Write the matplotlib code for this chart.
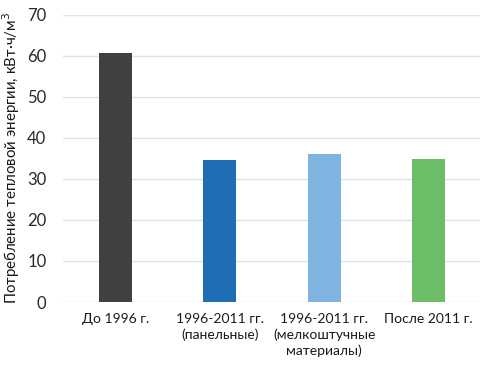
import matplotlib.pyplot as plt

categories = ["До 1996 г.", "1996-2011 гг.\n(панельные)",
              "1996-2011 гг.\n(мелкоштучные\nматериалы)", "После 2011 г."]
values = [60.6, 34.7, 36.1, 34.8]
colors = ["#404040", "#1f6db5", "#80b4e0", "#6cbd66"]
yticks = [0, 10, 20, 30, 40, 50, 60, 70]

plt.rcParams['font.family'] = ['Lato', 'DejaVu Sans']

fig = plt.figure(figsize=(4.81, 3.67), dpi=100)
ax = fig.add_axes([0.131, 0.177, 0.869, 0.783])

x = range(len(categories))
ax.bar(x, values, width=0.32, color=colors, zorder=3)

ax.set_ylim(0, 70)
ax.set_xlim(-0.5, len(categories) - 0.5)
ax.set_yticks(yticks)
ax.set_xticks(list(x))
ax.set_xticklabels(categories, fontsize=10, color="#1a1a1a", linespacing=1.3)
ax.tick_params(axis='y', labelsize=12, colors="#2a2a2a", length=0, pad=12)
ax.tick_params(axis='x', length=0, pad=8)
ax.yaxis.grid(True, color="#d6e6f2", linewidth=1, zorder=0)
for s in ax.spines.values():
    s.set_visible(False)

ax.set_ylabel("Потребление тепловой энергии, кВт·ч/м$^3$", fontsize=10.8,
              color="#1a1a1a", labelpad=4)

fig.savefig("out.png", dpi=100)
